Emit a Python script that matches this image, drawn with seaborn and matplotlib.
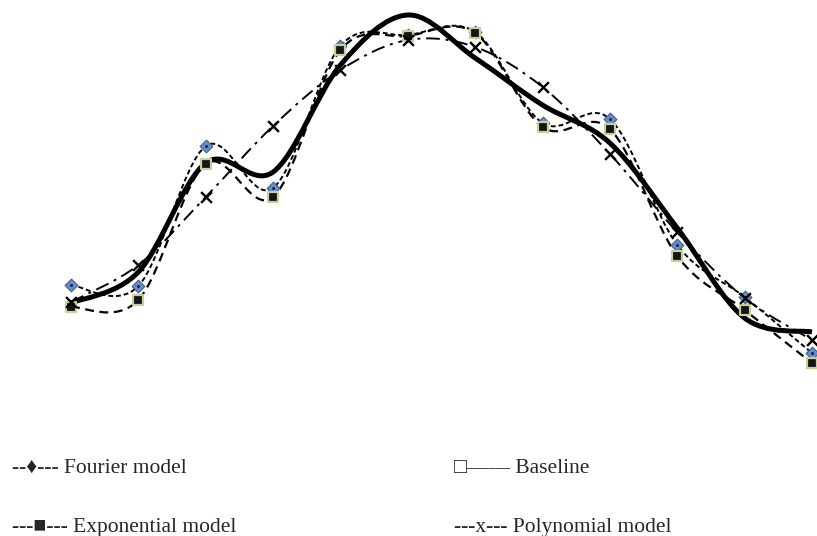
import numpy as np
import pandas as pd
import matplotlib.pyplot as plt
import seaborn as sns
from matplotlib.path import Path
from matplotlib.patches import PathPatch

# Werte (12 Messpunkte)
points = list(range(1, 13))
fourier = [115, 114, 254, 212, 354, 365, 368, 277, 281, 155, 103, 47]
exponential = [93, 100, 236, 203, 350, 364, 367, 273, 271, 144, 90, 37]
polynomial = [98, 135, 203, 274, 330, 360, 353, 313, 246, 168, 102, 60]
baseline = [97, 128, 237, 228, 335, 385, 342, 295, 257, 172, 82, 68]

legend_rows = [
    ("--\u2666--- Fourier model", "\u25a1\u2014\u2014 Baseline"),
    ("---\u25a0--- Exponential model", "---x--- Polynomial model"),
]


def smooth_path(x, y):
    # Catmull-Rom als Bezier-Kurve, wie "geglättete Linie" in Excel
    x = np.asarray(x, float)
    y = np.asarray(y, float)
    pts = np.column_stack([x, y])
    verts = [pts[0]]
    codes = [Path.MOVETO]
    n = len(pts)
    for i in range(n - 1):
        p0 = pts[max(i - 1, 0)]
        p1 = pts[i]
        p2 = pts[i + 1]
        p3 = pts[min(i + 2, n - 1)]
        verts += [p1 + (p2 - p0) / 6, p2 - (p3 - p1) / 6, p2]
        codes += [Path.CURVE4] * 3
    return Path(verts, codes)


def draw_curve(ax, y, **kw):
    patch = PathPatch(smooth_path(points, y), fill=False, capstyle="butt", **kw)
    ax.add_patch(patch)


sns.set_style("white")
plt.rcParams["font.family"] = ["Liberation Serif", "DejaVu Sans"]

fig = plt.figure(figsize=(8.17, 5.36), dpi=100)
ax = fig.add_axes([0, 0, 1, 1])
ax.set_xlim(-0.054, 12.075)
ax.set_ylim(-136, 400)
ax.axis("off")

draw_curve(ax, polynomial, edgecolor="black", lw=1.4, linestyle=(0, (7, 3, 1.5, 3)))
draw_curve(ax, fourier, edgecolor="black", lw=1.4, linestyle=(0, (2.5, 1.5)))
draw_curve(ax, exponential, edgecolor="black", lw=1.6, linestyle=(0, (4, 2.5)))
draw_curve(ax, baseline, edgecolor="black", lw=3.6, linestyle="-")

df = pd.DataFrame({"punkt": points, "fourier": fourier,
                   "exponential": exponential, "polynomial": polynomial})

sns.scatterplot(data=df, x="punkt", y="fourier", marker="D", s=42,
                color="#6a8cc4", edgecolor="#3f5f95", linewidth=0.8, ax=ax,
                zorder=3, clip_on=False)
sns.scatterplot(data=df, x="punkt", y="fourier", marker="o", s=5,
                color="#1a2a50", linewidth=0, ax=ax, zorder=3, clip_on=False)
sns.scatterplot(data=df, x="punkt", y="exponential", marker="s", s=55,
                color="#151515", edgecolor="#c6d09c", linewidth=1.6, ax=ax,
                zorder=4, clip_on=False)
sns.scatterplot(data=df, x="punkt", y="polynomial", marker="x", s=60,
                color="black", linewidth=1.7, ax=ax, zorder=5, clip_on=False)

# Legende als Text unter dem Diagramm
for row, (left, right) in enumerate(legend_rows):
    ybase = 1 - (473 + row * 59) / 536
    fig.text(12 / 817, ybase, left, fontsize=15.5, va="baseline", ha="left")
    fig.text(454 / 817, ybase, right, fontsize=15.5, va="baseline", ha="left")

fig.savefig("out.png", dpi=100)
plt.close(fig)
